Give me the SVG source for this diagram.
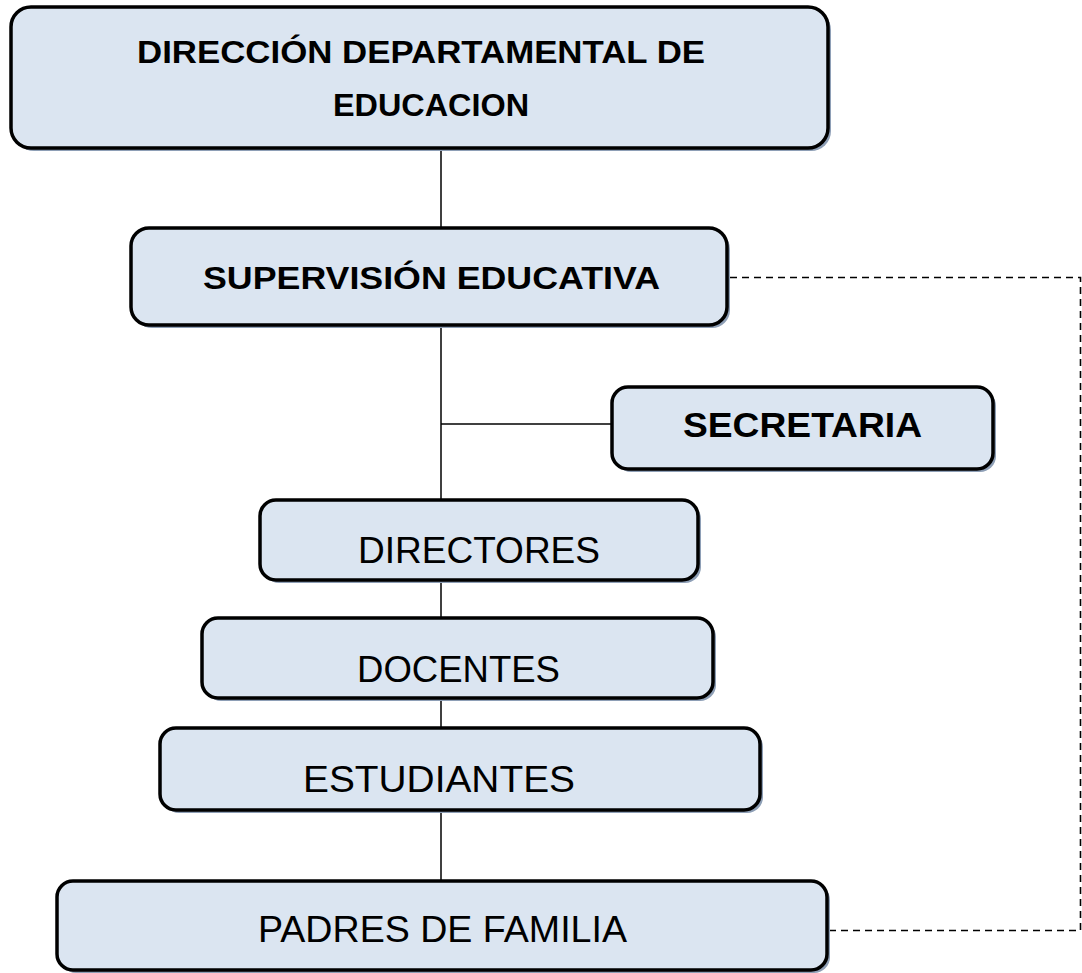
<svg xmlns="http://www.w3.org/2000/svg" width="1082" height="973" viewBox="0 0 1082 973">
<style>
.box{fill:#dbe5f1;stroke:#000;stroke-width:3.5}
.sh{fill:#8e9fb6}
.t{font-family:"Liberation Sans",Arial,sans-serif;fill:#000}
.tb{font-family:"Liberation Sans",Arial,sans-serif;font-weight:bold;fill:#000}
.tg{font-family:"Liberation Sans",Arial,sans-serif;font-weight:bold;fill:#000}
.ln{stroke:#000;stroke-width:1.5;fill:none}
.dash{stroke:#000;stroke-width:1.6;fill:none;stroke-dasharray:7 5}
</style>
<rect width="1082" height="973" fill="#fff"/>
<g id="connectors">
<line class="ln" x1="441" y1="148" x2="441" y2="228"/>
<line class="ln" x1="441" y1="325" x2="441" y2="500"/>
<line class="ln" x1="441" y1="424" x2="612" y2="424"/>
<line class="ln" x1="441" y1="580" x2="441" y2="618"/>
<line class="ln" x1="441" y1="698" x2="441" y2="728"/>
<line class="ln" x1="441" y1="810" x2="441" y2="881"/>
<polyline class="dash" points="730,277.5 1080.5,277.5 1080.5,930.5 827,930.5"/>
</g>
<g id="n1">
<rect class="sh" x="14" y="10" width="817" height="141" rx="20"/>
<rect class="box" x="11" y="7" width="817" height="141" rx="20"/>
<text class="tg" x="137" y="63" font-size="32" textLength="568" lengthAdjust="spacingAndGlyphs">DIRECCIÓN DEPARTAMENTAL DE</text>
<text class="tg" x="333" y="116" font-size="32" textLength="196" lengthAdjust="spacingAndGlyphs">EDUCACION</text>
</g>
<g id="n2">
<rect class="sh" x="134" y="231" width="596" height="97" rx="18"/>
<rect class="box" x="131" y="228" width="596" height="97" rx="18"/>
<text class="tb" x="203" y="289" font-size="31" textLength="457" lengthAdjust="spacingAndGlyphs">SUPERVISIÓN  EDUCATIVA</text>
</g>
<g id="n3">
<rect class="sh" x="615" y="390" width="381" height="82" rx="16"/>
<rect class="box" x="612" y="387" width="381" height="82" rx="16"/>
<text class="tb" x="683" y="437" font-size="35" textLength="239" lengthAdjust="spacingAndGlyphs">SECRETARIA</text>
</g>
<g id="n4">
<rect class="sh" x="263" y="503" width="438" height="80" rx="16"/>
<rect class="box" x="260" y="500" width="438" height="80" rx="16"/>
<text class="t" x="358" y="563" font-size="36" textLength="242" lengthAdjust="spacingAndGlyphs">DIRECTORES</text>
</g>
<g id="n5">
<rect class="sh" x="205" y="621" width="511" height="80" rx="16"/>
<rect class="box" x="202" y="618" width="511" height="80" rx="16"/>
<text class="t" x="357" y="682" font-size="36" textLength="203" lengthAdjust="spacingAndGlyphs">DOCENTES</text>
</g>
<g id="n6">
<rect class="sh" x="163" y="731" width="600" height="82" rx="16"/>
<rect class="box" x="160" y="728" width="600" height="82" rx="16"/>
<text class="t" x="303" y="792" font-size="36" textLength="272" lengthAdjust="spacingAndGlyphs">ESTUDIANTES</text>
</g>
<g id="n7">
<rect class="sh" x="60" y="884" width="770" height="89" rx="16"/>
<rect class="box" x="57" y="881" width="770" height="89" rx="16"/>
<text class="t" x="258" y="942" font-size="36" textLength="369" lengthAdjust="spacingAndGlyphs">PADRES DE FAMILIA</text>
</g>
</svg>
